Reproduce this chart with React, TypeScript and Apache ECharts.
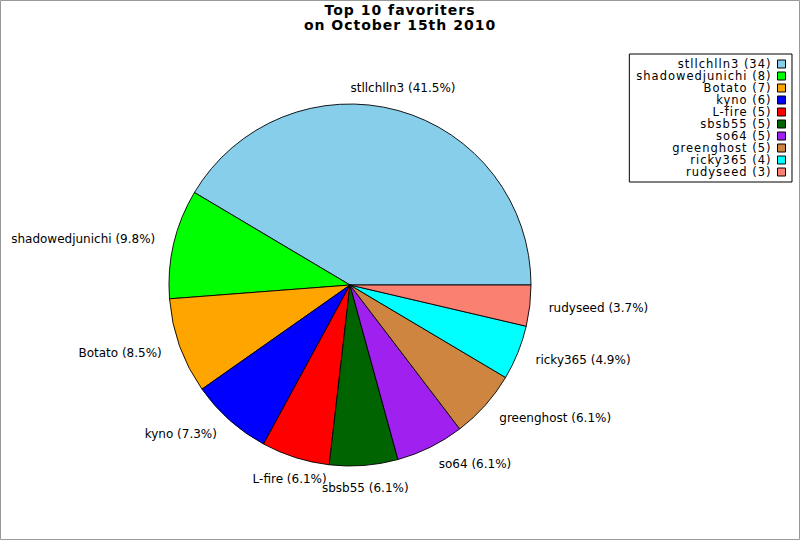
import React, { useEffect, useRef } from "react";
import * as echarts from "echarts";

const names = [
  "stllchlln3",
  "shadowedjunichi",
  "Botato",
  "kyno",
  "L-fire",
  "sbsb55",
  "so64",
  "greenghost",
  "ricky365",
  "rudyseed",
];
const values = [34, 8, 7, 6, 5, 5, 5, 5, 4, 3];
const colors = [
  "#87CEEB",
  "#00FF00",
  "#FFA500",
  "#0000FF",
  "#FF0000",
  "#006400",
  "#A020F0",
  "#CD853F",
  "#00FFFF",
  "#FA8072",
];
const titleLines = ["Top 10 favoriters", "on October 15th 2010"];

export default function App() {
  const ref = useRef<HTMLDivElement>(null);
  useEffect(() => {
    if (!ref.current) return;
    const el = ref.current;
    const chart = echarts.init(el, undefined, { renderer: "svg" });
    const valueOf: Record<string, number> = {};
    names.forEach((n, i) => (valueOf[n] = values[i]));
    const total = values.reduce((a, b) => a + b, 0);
    const legendTexts = new Set(names.map((n) => `${n} (${valueOf[n]})`));
    const font = "DejaVu Sans";

    const applySpacing = () => {
      el.querySelectorAll("text").forEach((t) => {
        const s = (t.textContent || "").trim();
        if (legendTexts.has(s)) {
          (t as SVGTextElement).style.letterSpacing = "1px";
        } else if (titleLines.includes(s)) {
          (t as SVGTextElement).style.letterSpacing = "1px";
        }
      });
    };

    chart.setOption({
      animation: false,
      backgroundColor: "#fff",
      title: {
        text: titleLines.join("\n"),
        left: "center",
        top: 2,
        padding: 0,
        textStyle: {
          fontFamily: font,
          fontSize: 14,
          fontWeight: "bold",
          color: "#000",
          lineHeight: 15,
        },
      },
      legend: {
        orient: "vertical",
        align: "right",
        right: 8,
        top: 54,
        padding: [4, 6, 4, 26],
        borderColor: "#000",
        borderWidth: 1,
        itemWidth: 8,
        itemHeight: 8,
        itemGap: 0,
        icon: "rect",
        data: names,
        formatter: (name: string) => `${name} (${valueOf[name]})`,
        textStyle: {
          fontFamily: font,
          fontSize: 11.5,
          lineHeight: 11,
          color: "#000",
          padding: [0, 1, 0, 0],
        },
        itemStyle: { borderColor: "#000", borderWidth: 1 },
      },
      graphic: [
        {
          type: "rect",
          shape: { x: 0.5, y: 0.5, width: 799, height: 539 },
          style: { fill: "none", stroke: "#999", lineWidth: 1 },
          silent: true,
        },
      ],
      series: [
        {
          type: "pie",
          center: [350, 285],
          radius: 181,
          startAngle: 0,
          clockwise: false,
          avoidLabelOverlap: false,
          data: names.map((n, i) => ({
            name: n,
            value: values[i],
            itemStyle: { color: colors[i] },
          })),
          itemStyle: { borderColor: "#000", borderWidth: 0.9 },
          label: {
            show: true,
            position: "outside",
            formatter: (p: any) =>
              `${p.name} (${((p.value / total) * 100).toFixed(1)}%)`,
            fontFamily: font,
            fontSize: 12,
            color: "#000",
            distanceToLabelLine: 0,
          },
          labelLine: {
            show: true,
            length: 19,
            length2: 0,
            lineStyle: { opacity: 0, width: 0 },
          },
          emphasis: { disabled: true },
          labelLayout: (params: any) => {
            const pts = params.labelLinePoints;
            if (!pts || pts.length < 2) return {};
            const ddx = pts[1][0] - pts[0][0];
            const ddy = pts[1][1] - pts[0][1];
            const len = Math.sqrt(ddx * ddx + ddy * ddy) || 1;
            const c = ddx / len;
            const s = ddy / len;
            if (Math.abs(c) < 0.38) {
              return { align: "center", dy: s * 4 };
            }
            return {};
          },
        },
      ],
    });
    applySpacing();
    chart.on("rendered", applySpacing);
    return () => chart.dispose();
  }, []);
  return (
    <div
      ref={ref}
      style={{ position: "fixed", left: 0, top: 0, width: 800, height: 540 }}
    />
  );
}
